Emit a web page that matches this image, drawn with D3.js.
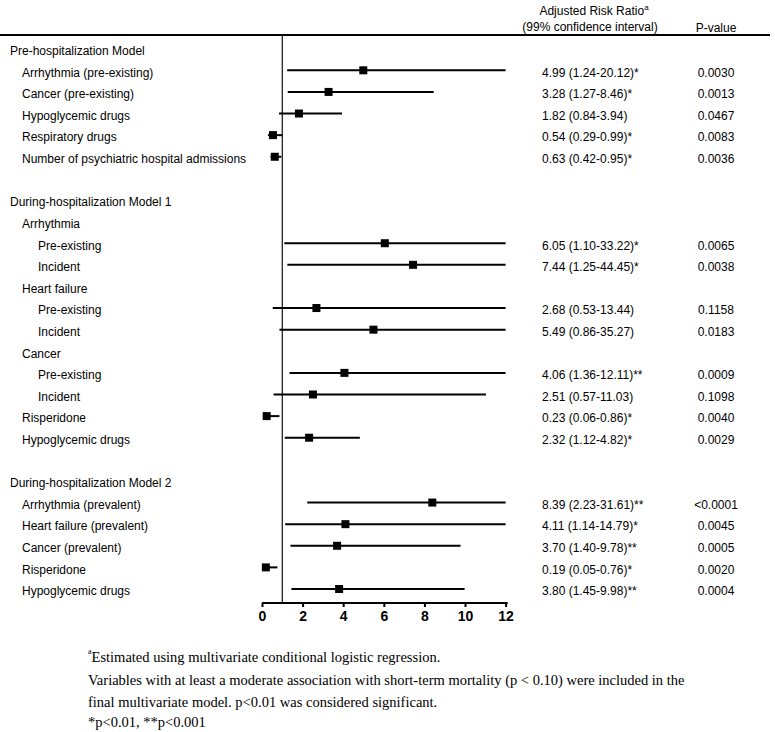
<!DOCTYPE html>
<html><head><meta charset="utf-8">
<script src="https://cdn.jsdelivr.net/npm/d3@7"></script>
<style>body{margin:0;background:#fff;}svg{display:block;}</style>
</head><body>
<svg id="c" width="775" height="732"></svg>
<script>
const labels = ["Pre-hospitalization Model","Arrhythmia (pre-existing)","Cancer (pre-existing)","Hypoglycemic drugs","Respiratory drugs","Number of psychiatric hospital admissions","",
"During-hospitalization Model 1","Arrhythmia","Pre-existing","Incident","Heart failure","Pre-existing","Incident","Cancer","Pre-existing","Incident","Risperidone","Hypoglycemic drugs","",
"During-hospitalization Model 2","Arrhythmia (prevalent)","Heart failure (prevalent)","Cancer (prevalent)","Risperidone","Hypoglycemic drugs"];
const levels = [0,1,1,1,1,1,0, 0,1,2,2,1,2,2,1,2,2,1,1,0, 0,1,1,1,1,1];
const riskRatio = [null,4.99,3.28,1.82,0.54,0.63,null, null,null,6.05,7.44,null,2.68,5.49,null,4.06,2.51,0.23,2.32,null, null,8.39,4.11,3.70,0.19,3.80];
const lowerCI = [null,1.24,1.27,0.84,0.29,0.42,null, null,null,1.10,1.25,null,0.53,0.86,null,1.36,0.57,0.06,1.12,null, null,2.23,1.14,1.40,0.05,1.45];
const upperCI = [null,20.12,8.46,3.94,0.99,0.95,null, null,null,33.22,44.45,null,13.44,35.27,null,12.11,11.03,0.86,4.82,null, null,31.61,14.79,9.78,0.76,9.98];
const stars = ["","*","*","","*","*","", "","","*","*","","","","","**","","*","*","", "","**","*","**","*","**"];
const pValues = ["","0.0030","0.0013","0.0467","0.0083","0.0036","", "","","0.0065","0.0038","","0.1158","0.0183","","0.0009","0.1098","0.0040","0.0029","", "","<0.0001","0.0045","0.0005","0.0020","0.0004"];
const xTicks = [0,2,4,6,8,10,12];
const footnotes = ["Estimated using multivariate conditional logistic regression.",
"Variables with at least a moderate association with short-term mortality (p < 0.10) were included in the",
"final multivariate model. p<0.01 was considered significant.",
"*p<0.01, **p<0.001"];

const svg = d3.select("#c");
const sans = "Liberation Sans, Arial, sans-serif";
const serif = "Liberation Serif, Times New Roman, serif";
const fs = 12;

const x = d3.scaleLinear().domain([0,12]).range([262,505.6]);
const y = d3.scalePoint().domain(d3.range(labels.length)).range([50.7,591]);
const axisY = 603;

svg.append("line").attr("x1",0).attr("x2",770).attr("y1",35).attr("y2",35)
  .attr("stroke","#000").attr("stroke-width",2);

const hdr = svg.append("text").attr("x",594).attr("y",15).attr("text-anchor","middle")
  .attr("font-family",sans).attr("font-size",fs).attr("fill","#000");
hdr.append("tspan").text("Adjusted Risk Ratio");
hdr.append("tspan").attr("font-size",8).attr("dy",-5).text("a");
svg.append("text").attr("x",590).attr("y",31).attr("text-anchor","middle")
  .attr("font-family",sans).attr("font-size",fs).text("(99% confidence interval)");
svg.append("text").attr("x",716).attr("y",32).attr("text-anchor","middle")
  .attr("font-family",sans).attr("font-size",fs).text("P-value");

svg.append("line").attr("x1",x(1)).attr("x2",x(1)).attr("y1",35).attr("y2",axisY)
  .attr("stroke","#222").attr("stroke-width",1.3);

const indent = [10,22,38];
labels.forEach((l,i)=>{
  if(!l) return;
  svg.append("text").attr("x",indent[levels[i]]).attr("y",y(i)).attr("dy","0.36em")
    .attr("font-family",sans).attr("font-size",fs).attr("fill","#000").text(l);
});

const idx = d3.range(labels.length).filter(i=>riskRatio[i]!=null);
svg.append("g").selectAll("line").data(idx).join("line")
  .attr("x1",i=>x(Math.max(0,lowerCI[i]))).attr("x2",i=>x(Math.min(12,upperCI[i])))
  .attr("y1",i=>y(i)-2).attr("y2",i=>y(i)-2)
  .attr("stroke","#000").attr("stroke-width",2);
const ms = 8;
svg.append("g").selectAll("rect").data(idx).join("rect")
  .attr("x",i=>x(riskRatio[i])-ms/2).attr("y",i=>y(i)-2-ms/2)
  .attr("width",ms).attr("height",ms).attr("fill","#000");

idx.forEach(i=>{
  svg.append("text").attr("x",542).attr("y",y(i)).attr("dy","0.36em")
    .attr("font-family",sans).attr("font-size",fs)
    .text(riskRatio[i].toFixed(2)+" ("+lowerCI[i].toFixed(2)+"-"+upperCI[i].toFixed(2)+")"+stars[i]);
  svg.append("text").attr("x",716).attr("y",y(i)).attr("dy","0.36em").attr("text-anchor","middle")
    .attr("font-family",sans).attr("font-size",fs).text(pValues[i]);
});

const ax = svg.append("g").attr("transform",`translate(0,${axisY})`)
  .call(d3.axisBottom(x).tickValues(xTicks).tickSize(4).tickPadding(4).tickFormat(d3.format("d")));
ax.select(".domain").attr("stroke","#000").attr("stroke-width",2).attr("d",`M${x(0)},0H${x(12)+2}`);
ax.selectAll(".tick line").attr("stroke","#000").attr("stroke-width",2);
ax.selectAll(".tick text").attr("font-family",sans).attr("font-size",14).attr("font-weight","bold").attr("fill","#000");

const fy = [656,680,702,722];
footnotes.forEach((f,k)=>{
  const t = svg.append("text").attr("x",88).attr("y",fy[k]).attr("dy","0.35em")
    .attr("font-family",serif).attr("font-size",14.5).attr("fill","#000");
  if(k===0){ t.append("tspan").attr("font-size",8).attr("dy","-0.2em").text("a"); t.append("tspan").attr("dy","0.55em").text(f); }
  else t.text(f);
});
</script>
</body></html>
